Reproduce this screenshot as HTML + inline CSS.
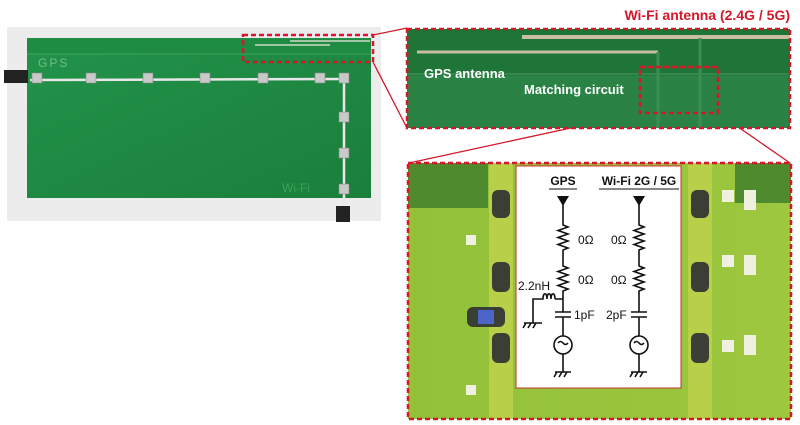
<!DOCTYPE html>
<html><head><meta charset="utf-8"><style>
html,body{margin:0;padding:0;background:#fff;width:800px;height:425px;overflow:hidden}
svg{display:block}
text{font-family:"Liberation Sans",sans-serif}
</style></head><body>
<svg width="800" height="425" viewBox="0 0 800 425" xmlns="http://www.w3.org/2000/svg">
<defs>
<linearGradient id="lb" x1="0" y1="0" x2="1" y2="1"><stop offset="0" stop-color="#22934a"/><stop offset="1" stop-color="#1a7f3b"/></linearGradient>
<linearGradient id="gb" x1="0" y1="0" x2="1" y2="0"><stop offset="0" stop-color="#93c13a"/><stop offset="1" stop-color="#9cc73e"/></linearGradient>
</defs>
<rect x="7" y="27" width="374" height="194" fill="#ececec"/>
<rect x="27" y="38" width="344" height="160" fill="url(#lb)"/>
<rect x="27" y="38" width="344" height="15" fill="#1f8c44"/>
<line x1="27" y1="54" x2="371" y2="54" stroke="#3aa25a" stroke-width="1"/>
<text x="38" y="67" font-size="12" fill="#6fbf86" letter-spacing="2">GPS</text>
<line x1="255" y1="45" x2="330" y2="45" stroke="#cfd9c5" stroke-width="1.5"/>
<line x1="290" y1="41" x2="370" y2="41" stroke="#cfd9c5" stroke-width="1.5"/>
<line x1="30" y1="80" x2="345" y2="79" stroke="#e8e8e8" stroke-width="2.5"/>
<line x1="344" y1="80" x2="344" y2="205" stroke="#e8e8e8" stroke-width="2.5"/>
<rect x="4" y="70" width="24" height="13" fill="#222"/>
<rect x="336" y="206" width="14" height="16" fill="#222"/>
<g fill="#c9c9c9" stroke="#888" stroke-width="0.6">
<rect x="32" y="73" width="10" height="10"/><rect x="86" y="73" width="10" height="10"/><rect x="143" y="73" width="10" height="10"/><rect x="200" y="73" width="10" height="10"/><rect x="258" y="73" width="10" height="10"/><rect x="315" y="73" width="10" height="10"/><rect x="339" y="73" width="10" height="10"/>
<rect x="339" y="112" width="10" height="10"/><rect x="339" y="148" width="10" height="10"/><rect x="339" y="184" width="10" height="10"/>
</g>
<text x="282" y="192" font-size="12" fill="#3aa25a">Wi-Fi</text>
<rect x="243" y="35" width="130" height="27" fill="none" stroke="#d5172a" stroke-width="2.5" stroke-dasharray="5,3"/>
<line x1="373" y1="35" x2="407" y2="28" stroke="#d5172a" stroke-width="1.3"/>
<line x1="373" y1="62" x2="407" y2="128" stroke="#d5172a" stroke-width="1.3"/>
<line x1="640" y1="113" x2="409" y2="163" stroke="#d5172a" stroke-width="1.3"/>
<line x1="718" y1="113" x2="790" y2="163" stroke="#d5172a" stroke-width="1.3"/>
<text x="790" y="20" font-size="14" font-weight="bold" fill="#d5172a" text-anchor="end">Wi-Fi antenna (2.4G / 5G)</text>
<rect x="407" y="29" width="383" height="99" fill="#237a3e"/>
<rect x="407" y="29" width="383" height="45" fill="#1f7538"/>
<rect x="407" y="76" width="383" height="52" fill="#2a8244"/>
<line x1="522" y1="37" x2="790" y2="37" stroke="#c9bf9e" stroke-width="4"/>
<line x1="417" y1="52" x2="658" y2="52" stroke="#c9bf9e" stroke-width="3"/>
<line x1="658" y1="52" x2="658" y2="128" stroke="#3c8d52" stroke-width="3"/>
<line x1="700" y1="38" x2="700" y2="128" stroke="#3c8d52" stroke-width="3"/>
<line x1="407" y1="74" x2="790" y2="74" stroke="#3c8d52" stroke-width="1.5"/>
<text x="424" y="78" font-size="13" font-weight="bold" fill="#fff">GPS antenna</text>
<text x="524" y="94" font-size="13" font-weight="bold" fill="#fff">Matching circuit</text>
<rect x="640" y="67" width="78" height="46" fill="none" stroke="#d5172a" stroke-width="2.5" stroke-dasharray="5,3"/>
<rect x="407" y="29" width="383" height="99" fill="none" stroke="#d5172a" stroke-width="2.5" stroke-dasharray="5,3"/>
<rect x="408" y="163" width="383" height="256" fill="url(#gb)"/>
<rect x="408" y="163" width="80" height="45" fill="#4f8a2e"/>
<rect x="735" y="163" width="56" height="40" fill="#4f8a2e"/>
<rect x="489" y="163" width="24" height="256" fill="#b8cf4a"/>
<rect x="688" y="163" width="24" height="256" fill="#b8cf4a"/>
<g fill="#3a3f35"><rect x="492" y="190" width="18" height="28" rx="6"/><rect x="492" y="262" width="18" height="30" rx="6"/><rect x="492" y="333" width="18" height="30" rx="6"/>
<rect x="691" y="190" width="18" height="28" rx="6"/><rect x="691" y="262" width="18" height="30" rx="6"/><rect x="691" y="333" width="18" height="30" rx="6"/></g>
<rect x="467" y="307" width="38" height="20" rx="6" fill="#3a3f35"/><rect x="478" y="310" width="16" height="14" fill="#4b64c8"/>
<g fill="#f0f0e0"><rect x="722" y="190" width="12" height="12"/><rect x="744" y="190" width="12" height="20"/><rect x="722" y="255" width="12" height="12"/><rect x="744" y="255" width="12" height="20"/><rect x="744" y="335" width="12" height="20"/><rect x="722" y="340" width="12" height="12"/><rect x="466" y="235" width="10" height="10"/><rect x="466" y="385" width="10" height="10"/></g>
<rect x="516" y="166" width="165" height="222" fill="#fff" stroke="#c0392b" stroke-width="1"/>
<rect x="408" y="163" width="383" height="256" fill="none" stroke="#d5172a" stroke-width="2.5" stroke-dasharray="5,3"/>
<g font-size="12" fill="#111">
<text x="563" y="185" text-anchor="middle" font-weight="bold">GPS</text>
<text x="639" y="185" text-anchor="middle" font-weight="bold">Wi-Fi 2G / 5G</text>
</g>
<line x1="549" y1="189" x2="577" y2="189" stroke="#111"/>
<line x1="599" y1="189" x2="679" y2="189" stroke="#111"/>
<g stroke="#111" stroke-width="1.6" fill="none">
<path d="M563 198 V225 l5 2 -10 3.5 10 3.5 -10 3.5 10 3.5 -10 3.5 10 3.5 -5 2 V266 l5 2 -10 3.5 10 3.5 -10 3.5 10 3.5 -10 3.5 10 3.5 -5 2 V312 M555 312 H571 M555 317 H571 M563 317 V336 M563 354 V372"/>
<circle cx="563" cy="345" r="9"/>
<path d="M639 198 V225 l5 2 -10 3.5 10 3.5 -10 3.5 10 3.5 -10 3.5 10 3.5 -5 2 V266 l5 2 -10 3.5 10 3.5 -10 3.5 10 3.5 -10 3.5 10 3.5 -5 2 V312 M631 312 H647 M631 317 H647 M639 317 V336 M639 354 V372"/>
<circle cx="639" cy="345" r="9"/>
<path d="M563 299 H555 M555 299 c0 -7 -4 -7 -4 0 c0 -7 -4 -7 -4 0 c0 -7 -4 -7 -4 0 H533 V323"/>
<path d="M555 372 H571 M557 372 l-3 5 M562 372 l-3 5 M567 372 l-3 5"/>
<path d="M631 372 H647 M633 372 l-3 5 M638 372 l-3 5 M643 372 l-3 5"/>
<path d="M524 323 H542 M526 323 l-3 5 M531 323 l-3 5 M536 323 l-3 5"/>
<path d="M558 343 q2.5 -3 5 0 t5 0"/><path d="M634 343 q2.5 -3 5 0 t5 0"/>
</g>
<path d="M557 196 H569 L563 206 Z" fill="#111"/>
<path d="M633 196 H645 L639 206 Z" fill="#111"/>
<g font-size="12" fill="#111">
<text x="578" y="244">0Ω</text><text x="578" y="284">0Ω</text><text x="574" y="319">1pF</text>
<text x="611" y="244">0Ω</text><text x="611" y="284">0Ω</text><text x="606" y="319">2pF</text>
<text x="518" y="290">2.2nH</text>
</g>
</svg>
</body></html>
